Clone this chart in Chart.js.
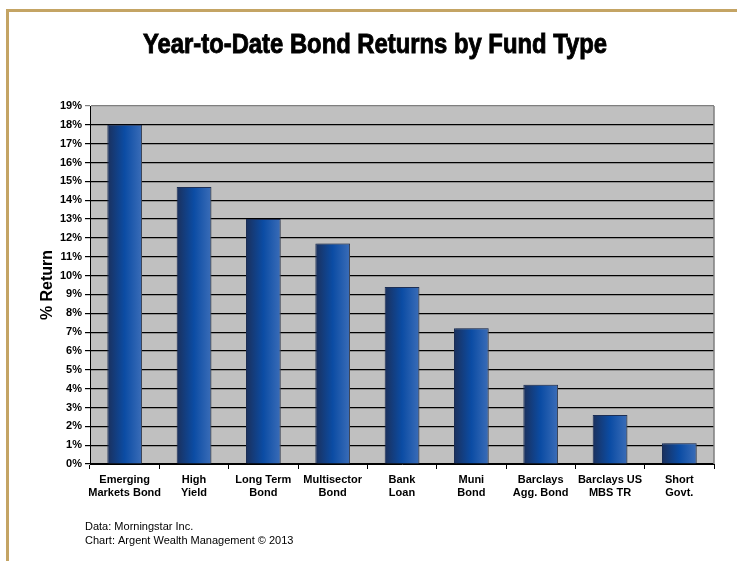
<!DOCTYPE html>
<html>
<head>
<meta charset="utf-8">
<title>Year-to-Date Bond Returns by Fund Type</title>
<script src="https://cdn.jsdelivr.net/npm/chart.js@4"></script>
<style>
  html, body { margin: 0; padding: 0; background: #fff; }
  #wrap { width: 737px; height: 561px; position: relative; }
</style>
</head>
<body>
<div id="wrap"><canvas id="bondChart" width="737" height="561"></canvas></div>
<script>
// Data
const fundTypes = [
    ["Emerging", "Markets Bond"],
    ["High", "Yield"],
    ["Long Term", "Bond"],
    ["Multisector", "Bond"],
    ["Bank", "Loan"],
    ["Muni", "Bond"],
    ["Barclays", "Agg. Bond"],
    ["Barclays US", "MBS TR"],
    ["Short", "Govt."],
];
const ytdReturns = [18.0, 14.7, 13.0, 11.7, 9.4, 7.2, 4.2, 2.6, 1.1];
const yMin = 0;
const yMax = 19;

const titleText = "Year-to-Date Bond Returns by Fund Type";
const footerLines = ["Data: Morningstar Inc.", "Chart: Argent Wealth Management \u00a9 2013"];

// frame, title, plot background, footer
const decorPlugin = {
    id: "decor",
    beforeDraw(chart) {
        const c = chart.ctx;
        const a = chart.chartArea;
        c.save();
        c.fillStyle = "#fff";
        c.fillRect(0, 0, chart.width, chart.height);
        // tan frame
        c.fillStyle = "#c4a464";
        c.fillRect(6, 9, chart.width - 6, 3);
        c.fillRect(6, 9, 3, chart.height - 9);
        // plot background
        c.fillStyle = "#c0c0c0";
        c.fillRect(a.left, a.top, a.right - a.left, a.bottom - a.top);
        // title, a little heavier than plain bold
        c.fillStyle = "#000";
        c.strokeStyle = "#000";
        c.lineWidth = 0.9;
        c.font = "bold 27px 'Liberation Sans Narrow', 'Liberation Sans', Arial, sans-serif";
        c.textAlign = "center";
        c.textBaseline = "alphabetic";
        c.fillText(titleText, 375, 53, 464);
        c.strokeText(titleText, 375, 53, 464);
        // footer
        c.font = "11px 'Liberation Sans', Arial, sans-serif";
        c.textAlign = "left";
        footerLines.forEach((t, i) => c.fillText(t, 85, 530 + i * 14));
        c.restore();
    },
    afterDraw(chart) {
        const c = chart.ctx;
        const a = chart.chartArea;
        c.save();
        // right edge of plot in gray
        c.strokeStyle = "#7f7f7f";
        c.lineWidth = 1.5;
        c.beginPath();
        c.moveTo(a.right, a.top);
        c.lineTo(a.right, a.bottom);
        c.stroke();
        c.restore();
    },
    beforeDatasetsDraw(chart) {
        const c = chart.ctx;
        c.save();
        c.shadowColor = "rgba(90,90,90,0.55)";
        c.shadowOffsetX = 2;
        c.shadowOffsetY = 0;
        c.shadowBlur = 1;
    },
    afterDatasetsDraw(chart) {
        chart.ctx.restore();
    },
};

function barGradient(context) {
    const chart = context.chart;
    const xs = chart.scales.x;
    if (!xs || xs.left === undefined) return "#0c4ea8";
    const cx = xs.getPixelForValue(context.dataIndex);
    const half = (xs.width / fundTypes.length) * 0.5 / 2;
    const g = chart.ctx.createLinearGradient(cx - half, 0, cx + half, 0);
    g.addColorStop(0, "#1b305c");
    g.addColorStop(0.5, "#0b4ca4");
    g.addColorStop(1, "#3b6db8");
    return g;
}

const tickFont = { family: "'Liberation Sans', Arial, sans-serif", size: 11, weight: "bold" };

new Chart(document.getElementById("bondChart"), {
    type: "bar",
    data: {
        labels: fundTypes,
        datasets: [
            {
                label: "YTD Return",
                data: ytdReturns,
                backgroundColor: barGradient,
                borderColor: "#1a2d55",
                borderWidth: 1,
                categoryPercentage: 1.0,
                barPercentage: 0.5,
            },
        ],
    },
    options: {
        responsive: false,
        animation: false,
        layout: { padding: { left: 26, right: 23, top: 106, bottom: 52 } },
        plugins: {
            legend: { display: false },
            tooltip: { enabled: false },
        },
        scales: {
            x: {
                afterFit: (s) => { s.height = 45; },
                grid: {
                    offset: true,
                    drawOnChartArea: false,
                    drawTicks: true,
                    tickLength: 5,
                    color: "#000",
                },
                border: { color: "#000", width: 1 },
                ticks: {
                    color: "#000",
                    font: tickFont,
                    padding: 4,
                    maxRotation: 0,
                    autoSkip: false,
                },
            },
            y: {
                min: yMin,
                max: yMax,
                afterFit: (s) => { s.width = 64; },
                grid: {
                    color: (ctx) => (ctx.tick && ctx.tick.value === yMax ? "#7f7f7f" : "#000"),
                    lineWidth: 1.2,
                    tickLength: 5,
                },
                border: { color: "#000", width: 1 },
                ticks: {
                    stepSize: 1,
                    color: "#000",
                    font: tickFont,
                    padding: 3,
                    callback: (v) => v + "%",
                },
                title: {
                    display: true,
                    text: "% Return",
                    color: "#000",
                    font: { family: "'Liberation Sans', Arial, sans-serif", size: 16, weight: "bold" },
                    padding: { top: 12, bottom: 0 },
                },
            },
        },
    },
    plugins: [decorPlugin],
});
</script>
</body>
</html>
